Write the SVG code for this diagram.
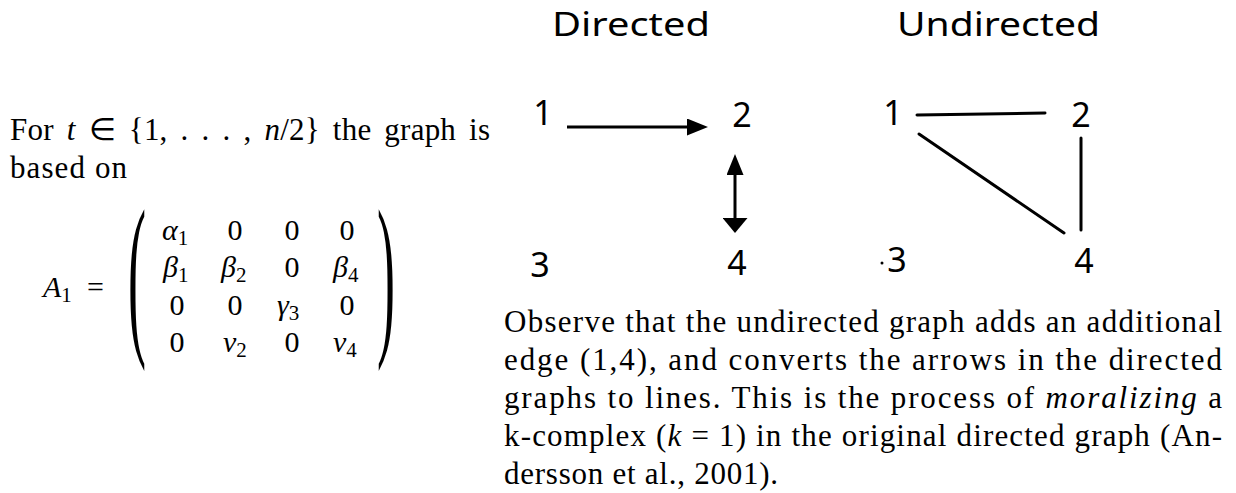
<svg xmlns="http://www.w3.org/2000/svg" width="1236" height="493" viewBox="0 0 1236 493">
<style>
.t{font-family:"Liberation Serif",serif;font-size:30px;fill:#000}
.p{font-family:"Liberation Serif",serif;font-size:31px;fill:#000}
.i{font-style:italic}
.sub{font-size:21px;font-style:normal}
.m{text-anchor:middle}
.paren{font-family:"Liberation Serif",serif;font-size:30px;fill:#000}
.hw{font-family:"Noto Sans",sans-serif;font-size:34px;fill:#000;text-anchor:middle}
.hd{font-family:"Noto Sans",sans-serif;font-size:33px;fill:#000}
.ln{stroke:#000;stroke-width:3;stroke-linecap:round;fill:none}
.ar{stroke:#000;stroke-width:3;stroke-linecap:butt;fill:none}
</style>
<defs>
<marker id="ah" viewBox="0 0 21 17" refX="0" refY="8.5" markerWidth="21" markerHeight="17" markerUnits="userSpaceOnUse" orient="auto-start-reverse">
<path d="M0,0 L21,8.5 L0,17 z" fill="#000"/>
</marker>
<marker id="ah2" viewBox="0 0 15 25" refX="0" refY="12.5" markerWidth="15" markerHeight="25" markerUnits="userSpaceOnUse" orient="auto">
<path d="M0,0 L15,12.5 L0,25 z" fill="#000"/>
</marker>
</defs>
<rect width="1236" height="493" fill="#fff"/>

<g id="left-text">
<text class="p" x="10" y="140" textLength="480" lengthAdjust="spacing" word-spacing="5">For <tspan class="i">t</tspan> ∈ {1, . . . , <tspan class="i">n</tspan>/2} the graph is</text>
<text class="p" x="10" y="178" textLength="117" lengthAdjust="spacing">based on</text>
</g>

<g id="matrix">
<text class="t" x="43" y="297"><tspan class="i">A</tspan><tspan class="sub" dy="5">1</tspan></text>
<text class="t" x="87" y="297">=</text>
<text class="paren" transform="translate(128,333) scale(1.8,5.9)">(</text>
<text class="paren" transform="translate(377,333) scale(1.8,5.9)">)</text>
<text class="t" x="162" y="240"><tspan class="i">α</tspan><tspan class="sub" dy="5">1</tspan></text>
<text class="t m" x="235" y="240">0</text>
<text class="t m" x="292" y="240">0</text>
<text class="t m" x="347" y="240">0</text>
<text class="t" x="163" y="277"><tspan class="i">β</tspan><tspan class="sub" dy="5">1</tspan></text>
<text class="t" x="221" y="277"><tspan class="i">β</tspan><tspan class="sub" dy="5">2</tspan></text>
<text class="t m" x="292" y="277">0</text>
<text class="t" x="333" y="277"><tspan class="i">β</tspan><tspan class="sub" dy="5">4</tspan></text>
<text class="t m" x="177" y="315">0</text>
<text class="t m" x="235" y="315">0</text>
<text class="t" x="277" y="315"><tspan class="i">γ</tspan><tspan class="sub" dy="5">3</tspan></text>
<text class="t m" x="347" y="315">0</text>
<text class="t m" x="177" y="352">0</text>
<text class="t" x="223" y="352"><tspan class="i">ν</tspan><tspan class="sub" dy="5">2</tspan></text>
<text class="t m" x="292" y="352">0</text>
<text class="t" x="333" y="352"><tspan class="i">ν</tspan><tspan class="sub" dy="5">4</tspan></text>
</g>

<g id="titles">
<text class="hd" x="552" y="36" textLength="158" lengthAdjust="spacingAndGlyphs">Directed</text>
<text class="hd" x="897" y="36" textLength="203" lengthAdjust="spacingAndGlyphs">Undirected</text>
</g>

<g id="d-node-1"><text class="hw" x="543" y="125">1</text></g>
<g id="d-node-2"><text class="hw" x="742" y="127">2</text></g>
<g id="d-node-3"><text class="hw" x="540" y="277">3</text></g>
<g id="d-node-4"><text class="hw" x="737" y="275">4</text></g>

<g id="u-node-1"><text class="hw" x="893" y="125">1</text></g>
<g id="u-node-2"><text class="hw" x="1081" y="127">2</text></g>
<g id="u-node-3"><circle cx="882" cy="263" r="1.5" fill="#000"/><text class="hw" x="897" y="272">3</text></g>
<g id="u-node-4"><text class="hw" x="1084" y="273">4</text></g>

<g id="connectors">
<line class="ar" x1="567" y1="127" x2="687" y2="127" marker-end="url(#ah)"/>
<line class="ar" x1="735" y1="175" x2="735" y2="218" marker-start="url(#ah)" marker-end="url(#ah2)"/>
<line class="ln" x1="917" y1="115" x2="1045" y2="113"/>
<line class="ln" x1="1081" y1="138" x2="1081" y2="230"/>
<line class="ln" x1="919" y1="134" x2="1064" y2="233"/>
</g>

<g id="caption">
<text class="p" x="504" y="332" textLength="718" lengthAdjust="spacing">Observe that the undirected graph adds an additional</text>
<text class="p" x="504" y="370" textLength="718" lengthAdjust="spacing">edge (1,4), and converts the arrows in the directed</text>
<text class="p" x="504" y="408" textLength="718" lengthAdjust="spacing">graphs to lines.  This is the process of <tspan class="i">moralizing</tspan> a</text>
<text class="p" x="504" y="446" textLength="718" lengthAdjust="spacing">k-complex (<tspan class="i">k</tspan> = 1) in the original directed graph (An-</text>
<text class="p" x="504" y="484" textLength="274" lengthAdjust="spacing">dersson et al., 2001).</text>
</g>
</svg>
